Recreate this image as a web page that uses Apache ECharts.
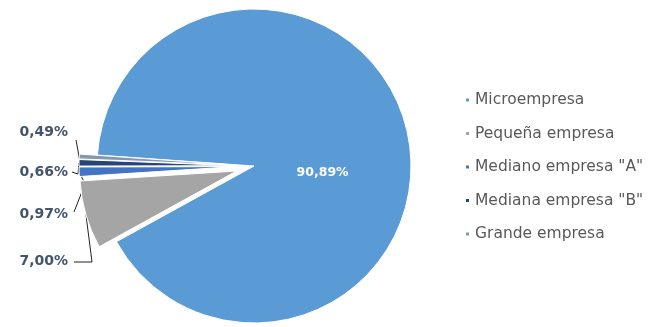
<!DOCTYPE html>
<html>
<head>
<meta charset="utf-8">
<script src="https://cdn.jsdelivr.net/npm/echarts@6/dist/echarts.min.js"></script>
<style>
html,body{margin:0;padding:0;background:#fff;}
#chart{width:653px;height:327px;}
</style>
</head>
<body>
<div id="chart"></div>
<script>
var categories = ['Microempresa', 'Pequeña empresa', 'Mediano empresa "A"', 'Mediana empresa "B"', 'Grande empresa'];
var values = [90.89, 7.00, 0.97, 0.66, 0.49];
var valueLabels = ['90,89%', '7,00%', '0,97%', '0,66%', '0,49%'];

var colors = ['#5B9BD5', '#A5A5A5', '#4472C4', '#264478', '#8497B0'];
var START = 176, OFFSET = 18;
var labelY = [null, 261, 214, 172, 132];
var bend = [null, [92, 262], [85, 184], [78, 174], [80, 162]];
var lineEnd = [null, [74, 262], [74, 212], [72, 172], [76, 140]];

var total = values.reduce(function (a, b) { return a + b; }, 0);
function midAngle(i) {
  var cum = 0;
  for (var k = 0; k < i; k++) cum += values[k];
  return (START - (cum + values[i] / 2) / total * 360) * Math.PI / 180;
}

var chart = echarts.init(document.getElementById('chart'));
var data = categories.map(function (c, i) {
  var d = { name: c, value: values[i], itemStyle: { color: colors[i] } };
  if (i === 0) {
    d.label = { position: 'inside', color: '#fff', fontSize: 12.5, fontWeight: 'bold', offset: [-11, 24] };
    d.labelLine = { show: false };
  } else {
    d.selected = true;
  }
  return d;
});

chart.setOption({
  animation: false,
  legend: {
    orient: 'vertical',
    left: 459,
    top: 86,
    itemGap: 15.5,
    icon: 'rect',
    itemWidth: 5,
    itemHeight: 5,
    selectedMode: false,
    textStyle: { color: '#595959', fontSize: 15.5, lineHeight: 18, fontFamily: 'DejaVu Sans' },
    data: categories
  },
  series: [{
    type: 'pie',
    center: [254, 166],
    radius: 157,
    startAngle: START,
    clockwise: true,
    selectedMode: 'multiple',
    selectedOffset: OFFSET,
    avoidLabelOverlap: false,
    itemStyle: { borderColor: '#fff', borderWidth: 1 },
    label: {
      show: true,
      formatter: function (p) { return valueLabels[p.dataIndex]; },
      color: '#44546A',
      fontWeight: 'bold',
      fontSize: 14,
      fontFamily: 'DejaVu Sans'
    },
    labelLine: { show: true, lineStyle: { color: '#222', width: 1 }, length: 6, length2: 6 },
    labelLayout: function (p) {
      var i = p.dataIndex;
      if (i === 0) return {};
      var r = p.labelRect;
      var a = midAngle(i);
      var ox = OFFSET * Math.cos(a), oy = -OFFSET * Math.sin(a);
      var anchor = p.labelLinePoints ? p.labelLinePoints[0] : [90, 170];
      var b = bend[i], e = lineEnd[i];
      return {
        dx: (68 - r.width) - r.x - ox,
        dy: labelY[i] - (r.y + r.height / 2) - oy,
        labelLinePoints: [
          [anchor[0], anchor[1]],
          [b[0] - ox, b[1] - oy],
          [e[0] - ox, e[1] - oy]
        ]
      };
    },
    emphasis: { disabled: true },
    data: data
  }]
});
</script>
</body>
</html>
